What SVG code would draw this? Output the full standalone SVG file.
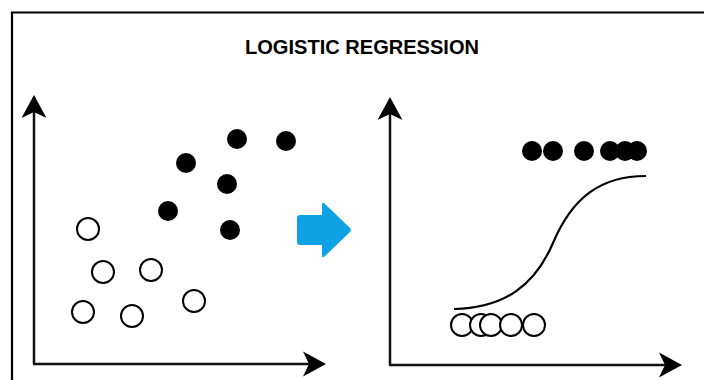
<svg xmlns="http://www.w3.org/2000/svg" width="704" height="380" viewBox="0 0 704 380">
  <style>
    .frame { fill: none; stroke: #000; stroke-width: 2.2; }
    .axis { fill: none; stroke: #111; stroke-width: 2.5; }
    .dot { fill: #000; }
    .ring { fill: #fff; stroke: #000; stroke-width: 2; }
    .curve { fill: none; stroke: #000; stroke-width: 2.2; }
    .title { font-family: "Liberation Sans", Arial, sans-serif; font-weight: bold; font-size: 19.5px; fill: #000; }
  </style>
  <defs>
    <marker id="head" viewBox="-24 -13 25 26" markerWidth="25" markerHeight="26" refX="-10" refY="0" orient="auto" markerUnits="userSpaceOnUse">
      <path d="M0,0 L-23,-12.5 L-17,0 L-23,12.5 Z" fill="#000"/>
    </marker>
  </defs>
  <rect width="704" height="380" fill="#fff"/>
  <path class="frame" d="M12,381 V12.5 H705"/>

  <g id="title">
    <text class="title" x="362" y="54" text-anchor="middle" textLength="234" lengthAdjust="spacingAndGlyphs">LOGISTIC REGRESSION</text>
  </g>

  <g id="connectors">
    <path class="axis" d="M34,364 V105" marker-end="url(#head)"/>
    <path class="axis" d="M33,364 H316" marker-end="url(#head)"/>
    <path class="axis" d="M390,365 V107" marker-end="url(#head)"/>
    <path class="axis" d="M389,365 H672" marker-end="url(#head)"/>
  </g>

  <g id="left-plot">
    <circle class="dot" cx="237" cy="139" r="10"/>
    <circle class="dot" cx="286" cy="141" r="10"/>
    <circle class="dot" cx="186" cy="163" r="10"/>
    <circle class="dot" cx="227" cy="184" r="10"/>
    <circle class="dot" cx="168" cy="211" r="10"/>
    <circle class="dot" cx="230" cy="230" r="10"/>
    <circle class="ring" cx="88" cy="229" r="11"/>
    <circle class="ring" cx="103" cy="272" r="11"/>
    <circle class="ring" cx="151" cy="270" r="11"/>
    <circle class="ring" cx="83" cy="312" r="11"/>
    <circle class="ring" cx="132" cy="316" r="11"/>
    <circle class="ring" cx="194" cy="301" r="11"/>
  </g>

  <g id="transform-arrow">
    <path d="M300,215 H322 V205 Q322,201 325,204 L350,228 Q352,230 350,232 L325,256 Q322,259 322,255 V245 H300 Q297,245 297,242 V218 Q297,215 300,215 Z" fill="#0ea2e4"/>
  </g>

  <g id="right-plot">
    <circle class="dot" cx="532" cy="151" r="10"/>
    <circle class="dot" cx="553" cy="151" r="10"/>
    <circle class="dot" cx="584" cy="151" r="10"/>
    <circle class="dot" cx="610" cy="151" r="10"/>
    <circle class="dot" cx="625" cy="151" r="10"/>
    <circle class="dot" cx="637" cy="151" r="10"/>
    <path class="curve" d="M454,309 C505,308 535,285 553,243 C572,198 600,176 646,176"/>
    <circle class="ring" cx="462" cy="325" r="11"/>
    <circle class="ring" cx="481" cy="325" r="11"/>
    <circle class="ring" cx="491" cy="325" r="11"/>
    <circle class="ring" cx="511" cy="325" r="11"/>
    <circle class="ring" cx="534" cy="325" r="11"/>
  </g>
</svg>
